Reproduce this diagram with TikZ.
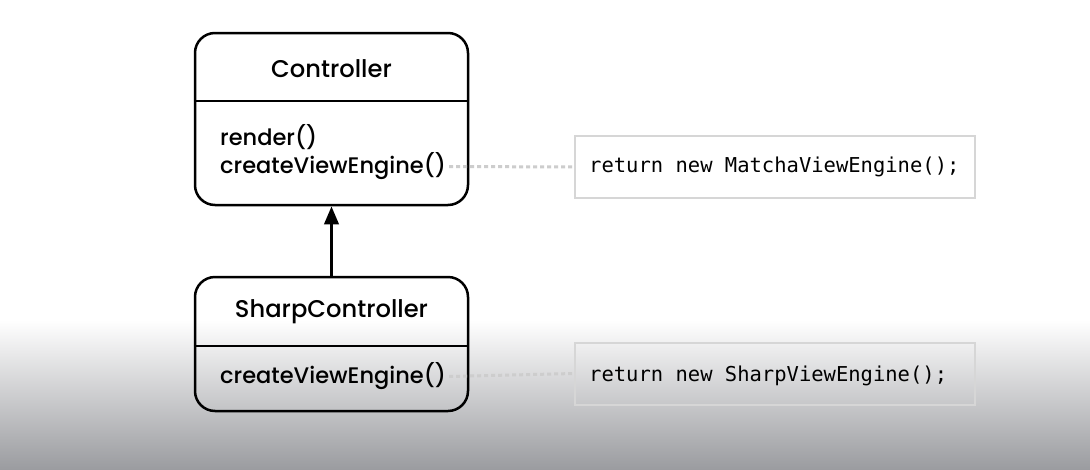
\documentclass[tikz,border=0pt]{standalone}
\usepackage{fontspec}
\setmainfont{Poppins}
\newfontfamily\pmed{Poppins Medium}
\newfontfamily\codefont{DejaVu Sans Mono}
\usetikzlibrary{arrows.meta}
\definecolor{bgbot}{RGB}{155,156,160}
\definecolor{dotgray}{RGB}{205,205,205}
\definecolor{codeborder}{RGB}{214,214,214}
\tikzset{
  classbox/.style={draw=black, line width=2.5pt, rounded corners=20pt, minimum width=273pt, inner sep=0pt},
  divider/.style={line width=2.5pt},
  titletext/.style={font=\pmed\fontsize{24.2}{28}\selectfont, inner sep=0pt},
  methodtext/.style={font=\pmed\fontsize{22.5}{27}\selectfont, inner sep=0pt, anchor=west},
  codebox/.style={draw=codeborder, line width=2pt, minimum width=400pt, minimum height=62pt, inner sep=0pt},
  codetext/.style={font=\codefont\fontsize{20.5}{24}\selectfont, inner sep=0pt, anchor=west},
  dotline/.style={draw=dotgray, line width=3pt, dash pattern=on 4pt off 3pt},
  inherit/.style={line width=3.5pt, -{Triangle[length=18pt,width=14pt]}}
}
\begin{document}
\begin{tikzpicture}[x=1pt,y=-1pt]
\useasboundingbox (0,0) rectangle (1090,469);
\fill[white] (0,0) rectangle (1090,320);
\shade[top color=white, bottom color=bgbot] (0,320) rectangle (1090,469);

% Controller
\node[classbox, minimum height=172pt] (ctrl) at (331.5,119) {};
\draw[divider] (ctrl.west |- 0,101) -- (ctrl.east |- 0,101);
\node[titletext] (ctrlt) at (331.5,69) {Controller};
\node[methodtext] (m1) at (220,137) {render()};
\node[methodtext] (m2) at (220,166.5) {createViewEngine()};

% SharpController
\node[classbox, minimum height=134pt] (sharp) at (331.5,344) {};
\draw[divider] (sharp.west |- 0,346) -- (sharp.east |- 0,346);
\node[titletext] (sharpt) at (331.5,312) {SharpController};
\node[methodtext] (s1) at (220,376.5) {createViewEngine()};

% inheritance
\draw[inherit] (sharp.north) -- (ctrl.south);

% code boxes
\node[codebox] (code1) at (775,167) {};
\node[codetext] (code1t) at (589,167) {return new MatchaViewEngine();};
\node[codebox] (code2) at (775,373.5) {};
\node[codetext] (code2t) at (589,376) {return new SharpViewEngine();};

\draw[dotline] ([xshift=3pt]m2.east) -- (code1.west);
\draw[dotline] ([xshift=3pt]s1.east) -- (code2.west);
\end{tikzpicture}
\end{document}
